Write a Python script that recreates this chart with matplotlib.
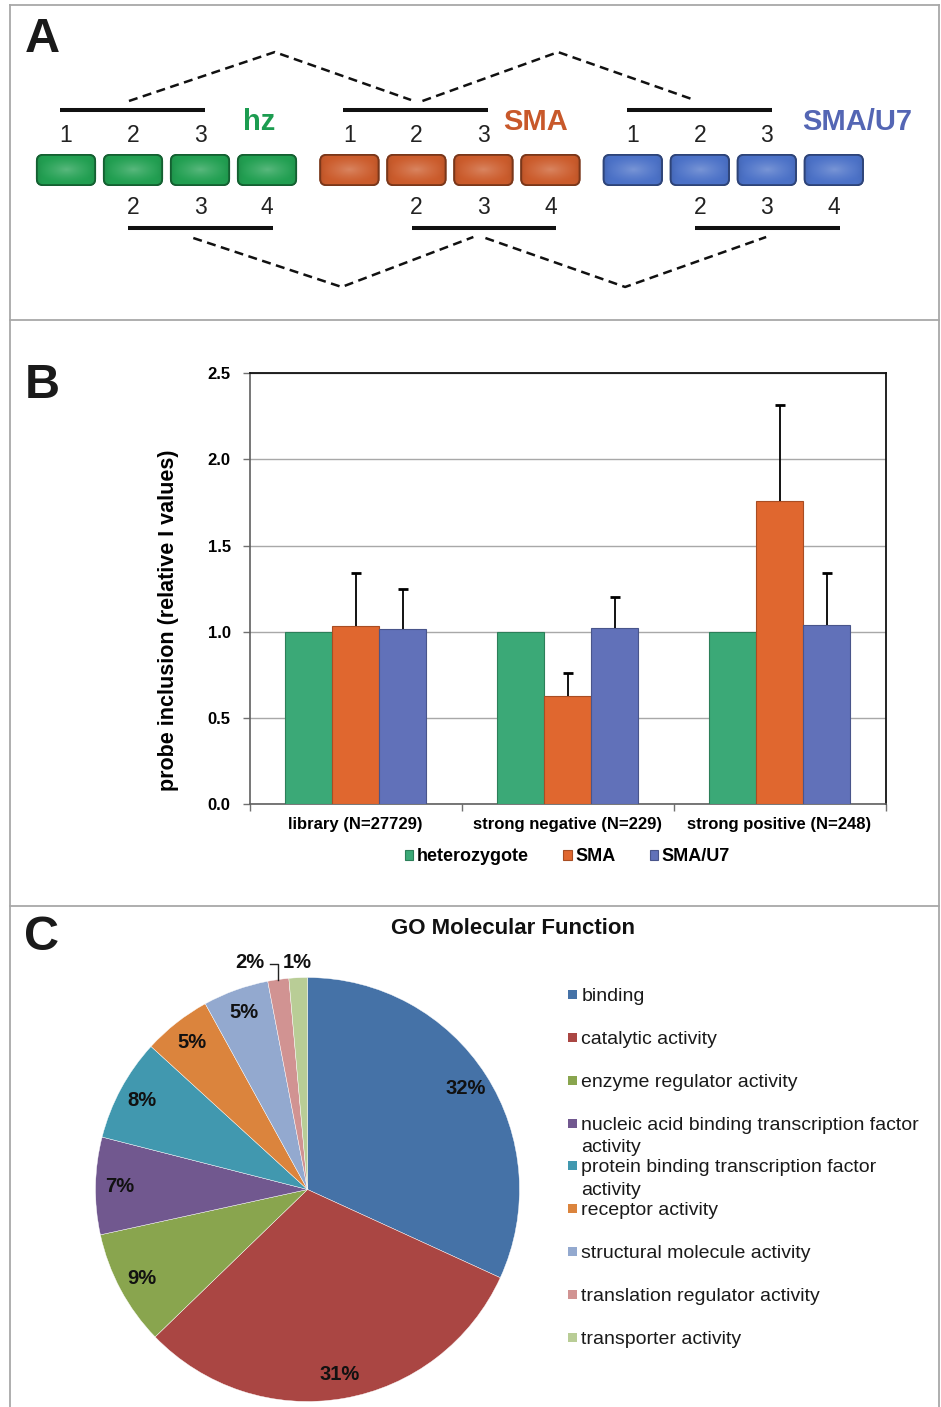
import numpy as np
import matplotlib
matplotlib.use('Agg')
import matplotlib.pyplot as plt
from matplotlib.patches import FancyBboxPatch, Rectangle
import matplotlib.colors as mcolors

plt.rcParams['font.family'] = ['Liberation Sans', 'DejaVu Sans']

# ---------------- Panel A data ----------------
groups = ['hz', 'SMA', 'SMA/U7']
group_colors = ['#22A052', '#CC5C2C', '#4C72C8']
group_text_colors = ['#1C9C50', '#C8582A', '#5466B4']
exons = [1, 2, 3, 4]
upper_probe = [1, 2, 3]
lower_probe = [2, 3, 4]

# ---------------- Panel B data ----------------
categories = ['library (N=27729)', 'strong negative (N=229)', 'strong positive (N=248)']
series = ['heterozygote', 'SMA', 'SMA/U7']
het_vals = [1.0, 1.0, 1.0]
sma_vals = [1.035, 0.626, 1.756]
u7_vals = [1.017, 1.023, 1.037]
het_err = [0.0, 0.0, 0.0]
sma_err = [0.305, 0.136, 0.562]
u7_err = [0.229, 0.180, 0.304]
bar_colors = ['#3BA977', '#E0672F', '#6171B9']
yticks_b = [0.0, 0.5, 1.0, 1.5, 2.0, 2.5]

# ---------------- Panel C data ----------------
go_terms = ['binding', 'catalytic activity', 'enzyme regulator activity',
            'nucleic acid binding transcription factor\nactivity',
            'protein binding transcription factor\nactivity',
            'receptor activity', 'structural molecule activity',
            'translation regulator activity', 'transporter activity']
go_pct = [31.8, 30.9, 8.8, 7.4, 7.8, 5.2, 5.0, 1.6, 1.4]
go_colors = ['#4572A7', '#AA4643', '#89A54E', '#71588F', '#4198AF',
             '#DB843D', '#93A9CF', '#D19392', '#B9CD96']

W, H = 941, 1407
fig = plt.figure(figsize=(W / 100, H / 100), dpi=100)


def rect(x0, y0, x1, y1):
    return [x0 / W, 1 - y1 / H, (x1 - x0) / W, (y1 - y0) / H]


def fx(px):
    return px / W


def fy(py):
    return 1 - py / H


# ---------------- frame / separators ----------------
axbg = fig.add_axes([0, 0, 1, 1])
axbg.set_xlim(0, W)
axbg.set_ylim(H, 0)
axbg.axis('off')
bc = '#A8A8A8'
axbg.plot([10, 10], [5, H], color=bc, lw=1.3)
axbg.plot([939, 939], [5, H], color=bc, lw=1.3)
axbg.plot([10, 939], [5, 5], color=bc, lw=1.3)
axbg.plot([10, 939], [319.5, 319.5], color=bc, lw=1.3)
axbg.plot([10, 939], [905.5, 905.5], color=bc, lw=1.3)

for letter, py in [('A', 40), ('B', 386), ('C', 937)]:
    fig.text(fx(42), fy(py), letter, fontsize=35, fontweight='bold',
             ha='center', va='center', color='#1a1a1a')

# ---------------- Panel A ----------------
axA = fig.add_axes(rect(10, 5, 940, 320))
pitch = 67.0
axA.set_xlim((10 - 66) / pitch, (940 - 66) / pitch)
axA.set_ylim((170 - 320) / pitch, (170 - 5) / pitch)
axA.axis('off')

group_offset = 4.23
box_w, box_h = 0.87, 0.45
label_dx = [2.88, 2.78, 3.35]

yy, xx = np.mgrid[-1:1:40j, -1:1:80j]
rr = np.clip(np.sqrt(xx ** 2 + (yy * 1.1) ** 2), 0, 1)

for g, name in enumerate(groups):
    off = g * group_offset
    base = np.array(mcolors.to_rgb(group_colors[g]))
    dark = base * 0.6
    for e in exons:
        cx = off + (e - 1)
        p = FancyBboxPatch((cx - box_w / 2, -box_h / 2), box_w, box_h,
                           boxstyle='round,pad=0,rounding_size=0.09',
                           fc=base, ec=dark, lw=1.3, zorder=2)
        axA.add_patch(p)
        light = ((1 - rr) ** 1.3)[..., None] * 0.25
        img = base[None, None, :] * (1 - light) + light
        edge = (np.abs(xx) ** 8)[..., None] * 0.10
        img = img * (1 - edge)
        im = axA.imshow(img, extent=(cx - box_w / 2, cx + box_w / 2, -box_h / 2, box_h / 2),
                        zorder=2.5, aspect='auto', interpolation='bilinear')
        im.set_clip_path(p)
        p2 = FancyBboxPatch((cx - box_w / 2, -box_h / 2), box_w, box_h,
                            boxstyle='round,pad=0,rounding_size=0.09',
                            fc='none', ec=dark, lw=1.3, zorder=3)
        axA.add_patch(p2)
    for e in upper_probe:
        axA.text(off + e - 1, 0.52, str(e), fontsize=16.5, ha='center', va='center', color='#222222')
    for e in lower_probe:
        axA.text(off + e - 1, -0.567, str(e), fontsize=16.5, ha='center', va='center', color='#222222')
    axA.plot([off + upper_probe[0] - 1 - 0.09, off + upper_probe[-1] - 1 + 0.07], [0.896, 0.896],
             color='#111111', lw=2.9, solid_capstyle='butt')
    axA.plot([off + lower_probe[0] - 1 - 0.07, off + lower_probe[-1] - 1 + 0.09], [-0.866, -0.866],
             color='#111111', lw=2.9, solid_capstyle='butt')
    axA.text(off + label_dx[g], 0.716, name, fontsize=21, fontweight='bold',
             ha='center', va='center', color=group_text_colors[g])

up_mid = [g * group_offset + np.mean(upper_probe) - 1 for g in range(len(groups))]
lo_mid = [g * group_offset + np.mean(lower_probe) - 1 for g in range(len(groups))]
dash = (0, (3.6, 2.2))
for g in range(len(groups) - 1):
    s = -0.06 if g == 0 else 0.09
    axA.plot([up_mid[g] + s, (up_mid[g] + up_mid[g + 1]) / 2, up_mid[g + 1] - 0.08],
             [1.03, 1.76, 1.045], color='#111111', lw=1.8, linestyle=dash)
    s2 = -0.1 if g == 0 else 0.03
    axA.plot([lo_mid[g] + s2, (lo_mid[g] + lo_mid[g + 1]) / 2, lo_mid[g + 1] - 0.15 + 0.14 * g],
             [-1.015, -1.746, -1.0], color='#111111', lw=1.8, linestyle=dash)

# ---------------- Panel B ----------------
axB = fig.add_axes(rect(249.5, 373.3, 885.5, 804))
x = np.arange(len(categories))
w = 0.222
vals_all = [het_vals, sma_vals, u7_vals]
errs_all = [het_err, sma_err, u7_err]
handles = []
for k in range(3):
    xs = x + (k - 1) * w
    base = np.array(mcolors.to_rgb(bar_colors[k]))
    b = axB.bar(xs, vals_all[k], width=w, color=bar_colors[k], edgecolor=base * 0.75,
                linewidth=0.8, zorder=3, label=series[k])
    handles.append(b)
    ev = np.array(vals_all[k])
    ee = np.array(errs_all[k])
    m = ee > 0
    if m.any():
        axB.errorbar(xs[m], ev[m], yerr=[np.zeros(m.sum()), ee[m]], fmt='none',
                     ecolor='black', elinewidth=1.3, capsize=0, zorder=4)
        axB.plot(xs[m], (ev + ee)[m], ls='none', marker='_', ms=7, mew=2.0,
                 color='black', zorder=4)

axB.set_xlim(-0.5, 2.5)
axB.set_ylim(0, 2.5)
axB.set_yticks(yticks_b)
axB.set_yticklabels(['%.1f' % v for v in yticks_b], fontsize=12, fontweight='bold')
axB.set_xticks(x)
axB.set_xticklabels(categories, fontsize=12, fontweight='bold')
axB.set_xticks([-0.5, 0.5, 1.5, 2.5], minor=True)
axB.tick_params(axis='x', which='major', length=0, pad=9)
axB.tick_params(axis='x', which='minor', length=5, color='#707070', width=1)
axB.tick_params(axis='y', length=5, color='#707070', width=1, pad=8.5)
axB.yaxis.grid(True, color='#A8A8A8', lw=1, zorder=0)
axB.set_axisbelow(True)
for sp in ['left', 'bottom']:
    axB.spines[sp].set_color('#606060')
    axB.spines[sp].set_linewidth(1.2)
for sp in ['top', 'right']:
    axB.spines[sp].set_color('#111111')
    axB.spines[sp].set_linewidth(1.3)
axB.set_ylabel('probe inclusion (relative I values)', fontsize=15.5, fontweight='bold')
axB.yaxis.set_label_coords(-0.111, 0.427)
axB.legend(handles=handles, ncol=3, loc='center', bbox_to_anchor=(0.5, -0.123),
           frameon=False, handlelength=0.45, handleheight=0.5, handletextpad=0.2,
           columnspacing=1.9, prop={'size': 13, 'weight': 'bold'})

# ---------------- Panel C ----------------
fig.text(fx(513), fy(929), 'GO Molecular Function', fontsize=16, fontweight='bold',
         ha='center', va='center', color='#111111')

axC = fig.add_axes(rect(95.5, 977.5, 519.5, 1401.5))


def autopct(p):
    return ('%.0f%%' % p) if p >= 3 else ''


wedges, _, autotexts = axC.pie(go_pct, colors=go_colors, startangle=90, counterclock=False,
                               autopct=autopct, pctdistance=0.885,
                               wedgeprops=dict(edgecolor='white', linewidth=0.3),
                               textprops=dict(fontsize=14.5, fontweight='bold', color='#111111'))
axC.set_xlim(-1, 1)
axC.set_ylim(-1, 1)

total = sum(go_pct)
small = [i for i, v in enumerate(go_pct) if v / total * 100 < 3]
for j, i in enumerate(small):
    wd = wedges[i]
    mid = np.deg2rad((wd.theta1 + wd.theta2) / 2)
    txt = '%.0f%%' % (go_pct[i] / total * 100)
    if j == 0:
        axC.text(np.cos(mid) - 0.067, 1.073, txt, fontsize=14.5, fontweight='bold',
                 ha='right', va='center', color='#111111')
        axC.plot([np.cos(mid) - 0.04, np.cos(mid), np.cos(mid)],
                 [1.066, 1.066, np.sin(mid)], color='#222222', lw=1.0, clip_on=False)
    else:
        axC.text(np.cos(mid) - 0.005, 1.073, txt, fontsize=14.5, fontweight='bold',
                 ha='center', va='center', color='#111111')

# legend (manual, fixed row pitch)
row0, pitch_row, line_h = 994.3, 42.9, 22.3
for i, term in enumerate(go_terms):
    yc = row0 + i * pitch_row
    axbg.add_patch(Rectangle((568, yc - 4.5), 9, 9, color=go_colors[i], lw=0))
    for j, line in enumerate(term.split('\n')):
        axbg.text(581.5, yc + 6.5 + j * line_h, line, fontsize=14, ha='left',
                  va='baseline', color='#1a1a1a')

fig.savefig('out.png', dpi=100)
